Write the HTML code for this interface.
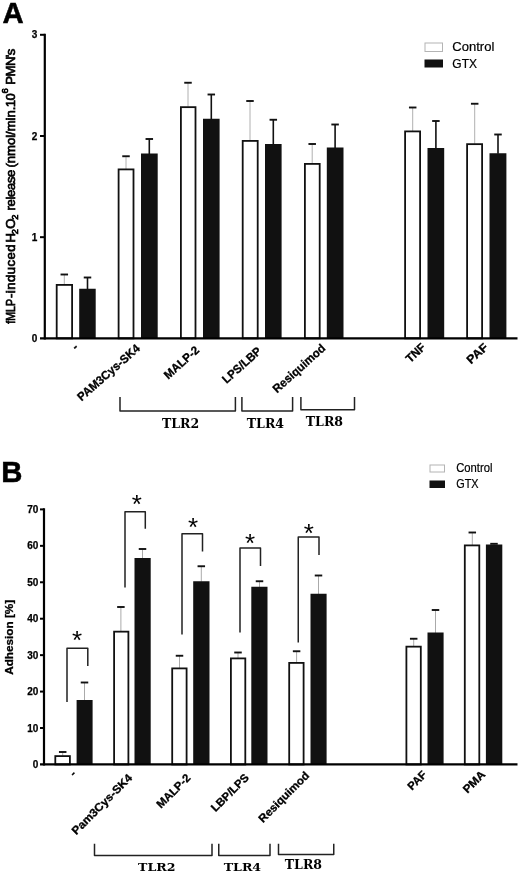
<!DOCTYPE html>
<html lang="en"><head><meta charset="utf-8"><title>Figure</title>
<style>html,body{margin:0;padding:0;background:#fff;}svg{display:block;}text{font-family:"Liberation Sans", Arial, Helvetica, sans-serif;fill:#000;}.b{font-weight:bold;}.tick{font-weight:bold;font-size:10px;text-anchor:end;stroke:#000;stroke-width:0.25px;}.xl{font-weight:bold;font-size:11.8px;text-anchor:end;stroke:#000;stroke-width:0.3px;}.tlr{font-family:"DejaVu Serif", "Liberation Serif", serif;font-weight:bold;font-size:13.6px;text-anchor:middle;}.ast{font-size:26px;text-anchor:middle;}</style></head><body>
<svg width="520" height="872" viewBox="0 0 520 872">
<rect width="520" height="872" fill="#fff"/>
<text x="2.6" y="22.7" class="b" style="font-size:29.3px" stroke="#000" stroke-width="0.5">A</text>
<line x1="64.30" y1="274.50" x2="64.30" y2="284.50" stroke="#b0b0b0" stroke-width="1.00"/>
<line x1="60.55" y1="274.50" x2="68.05" y2="274.50" stroke="#111" stroke-width="1.9"/>
<rect x="56.70" y="284.90" width="15.40" height="53.45" fill="#fff" stroke="#111" stroke-width="1.8"/>
<line x1="87.50" y1="277.50" x2="87.50" y2="289.25" stroke="#111" stroke-width="1.60"/>
<line x1="83.75" y1="277.50" x2="91.25" y2="277.50" stroke="#111" stroke-width="1.9"/>
<rect x="79.20" y="288.75" width="16.50" height="49.60" fill="#111"/>
<line x1="126.00" y1="156.25" x2="126.00" y2="169.00" stroke="#b0b0b0" stroke-width="1.00"/>
<line x1="122.25" y1="156.25" x2="129.75" y2="156.25" stroke="#111" stroke-width="1.9"/>
<rect x="118.60" y="169.40" width="14.90" height="168.95" fill="#fff" stroke="#111" stroke-width="1.8"/>
<line x1="149.30" y1="139.00" x2="149.30" y2="154.00" stroke="#111" stroke-width="1.60"/>
<line x1="145.55" y1="139.00" x2="153.05" y2="139.00" stroke="#111" stroke-width="1.9"/>
<rect x="141.00" y="153.50" width="16.70" height="184.85" fill="#111"/>
<line x1="188.00" y1="82.75" x2="188.00" y2="106.75" stroke="#b0b0b0" stroke-width="1.00"/>
<line x1="184.25" y1="82.75" x2="191.75" y2="82.75" stroke="#111" stroke-width="1.9"/>
<rect x="180.90" y="107.15" width="14.60" height="231.20" fill="#fff" stroke="#111" stroke-width="1.8"/>
<line x1="211.30" y1="94.50" x2="211.30" y2="119.25" stroke="#111" stroke-width="1.60"/>
<line x1="207.55" y1="94.50" x2="215.05" y2="94.50" stroke="#111" stroke-width="1.9"/>
<rect x="203.00" y="118.75" width="16.60" height="219.60" fill="#111"/>
<line x1="250.00" y1="101.00" x2="250.00" y2="140.50" stroke="#b0b0b0" stroke-width="1.00"/>
<line x1="246.25" y1="101.00" x2="253.75" y2="101.00" stroke="#111" stroke-width="1.9"/>
<rect x="242.70" y="140.90" width="15.00" height="197.45" fill="#fff" stroke="#111" stroke-width="1.8"/>
<line x1="273.30" y1="119.75" x2="273.30" y2="144.50" stroke="#111" stroke-width="1.60"/>
<line x1="269.55" y1="119.75" x2="277.05" y2="119.75" stroke="#111" stroke-width="1.9"/>
<rect x="265.00" y="144.00" width="16.60" height="194.35" fill="#111"/>
<line x1="312.20" y1="144.00" x2="312.20" y2="163.50" stroke="#b0b0b0" stroke-width="1.00"/>
<line x1="308.45" y1="144.00" x2="315.95" y2="144.00" stroke="#111" stroke-width="1.9"/>
<rect x="304.90" y="163.90" width="14.80" height="174.45" fill="#fff" stroke="#111" stroke-width="1.8"/>
<line x1="335.10" y1="124.50" x2="335.10" y2="148.00" stroke="#111" stroke-width="1.60"/>
<line x1="331.35" y1="124.50" x2="338.85" y2="124.50" stroke="#111" stroke-width="1.9"/>
<rect x="326.80" y="147.50" width="16.70" height="190.85" fill="#111"/>
<line x1="412.70" y1="107.50" x2="412.70" y2="131.00" stroke="#b0b0b0" stroke-width="1.00"/>
<line x1="408.95" y1="107.50" x2="416.45" y2="107.50" stroke="#111" stroke-width="1.9"/>
<rect x="405.10" y="131.40" width="15.00" height="206.95" fill="#fff" stroke="#111" stroke-width="1.8"/>
<line x1="435.90" y1="121.00" x2="435.90" y2="148.50" stroke="#111" stroke-width="1.60"/>
<line x1="432.15" y1="121.00" x2="439.65" y2="121.00" stroke="#111" stroke-width="1.9"/>
<rect x="427.50" y="148.00" width="16.70" height="190.35" fill="#111"/>
<line x1="474.70" y1="103.75" x2="474.70" y2="143.75" stroke="#b0b0b0" stroke-width="1.00"/>
<line x1="470.95" y1="103.75" x2="478.45" y2="103.75" stroke="#111" stroke-width="1.9"/>
<rect x="467.10" y="144.15" width="15.00" height="194.20" fill="#fff" stroke="#111" stroke-width="1.8"/>
<line x1="498.00" y1="134.50" x2="498.00" y2="153.75" stroke="#111" stroke-width="1.60"/>
<line x1="494.25" y1="134.50" x2="501.75" y2="134.50" stroke="#111" stroke-width="1.9"/>
<rect x="489.50" y="153.25" width="16.90" height="185.10" fill="#111"/>
<line x1="44.80" y1="33.70" x2="44.80" y2="339.45" stroke="#000" stroke-width="2.2"/>
<line x1="40.00" y1="338.35" x2="517.50" y2="338.35" stroke="#000" stroke-width="2.2"/>
<line x1="40" y1="237.17" x2="44.80" y2="237.17" stroke="#000" stroke-width="2"/>
<line x1="40" y1="135.98" x2="44.80" y2="135.98" stroke="#000" stroke-width="2"/>
<line x1="40" y1="34.80" x2="44.80" y2="34.80" stroke="#000" stroke-width="2"/>
<text x="37.2" y="341.95" class="tick">0</text>
<text x="37.2" y="240.77" class="tick">1</text>
<text x="37.2" y="139.58" class="tick">2</text>
<text x="37.2" y="38.40" class="tick">3</text>
<text transform="translate(14.80,323.80) rotate(-90)" style="font-size:13.1px" stroke="#000" stroke-width="0.7" textLength="24.8" lengthAdjust="spacingAndGlyphs">fMLP</text>
<text transform="translate(14.80,298.00) rotate(-90)" style="font-size:13.1px" stroke="#000" stroke-width="0.7" textLength="53.5" lengthAdjust="spacing">-induced</text>
<text transform="translate(14.80,242.60) rotate(-90)" style="font-size:13.1px" stroke="#000" stroke-width="0.7">H</text>
<text transform="translate(17.90,234.20) rotate(-90)" style="font-size:9.3px" stroke="#000" stroke-width="0.7">2</text>
<text transform="translate(14.80,228.70) rotate(-90)" style="font-size:13.1px" stroke="#000" stroke-width="0.7">O</text>
<text transform="translate(17.90,219.70) rotate(-90)" style="font-size:9.3px" stroke="#000" stroke-width="0.7">2</text>
<text transform="translate(14.80,210.60) rotate(-90)" style="font-size:13.1px" stroke="#000" stroke-width="0.7" textLength="41.0" lengthAdjust="spacing">release</text>
<text transform="translate(14.80,167.50) rotate(-90)" style="font-size:13.1px" stroke="#000" stroke-width="0.7" textLength="60.8" lengthAdjust="spacing">(nmol/min.</text>
<text transform="translate(14.80,107.20) rotate(-90)" style="font-size:13.1px" stroke="#000" stroke-width="0.7" textLength="14.0" lengthAdjust="spacing">10</text>
<text transform="translate(7.90,93.40) rotate(-90)" style="font-size:9.5px" stroke="#000" stroke-width="0.7">6</text>
<text transform="translate(14.80,84.70) rotate(-90)" style="font-size:13.1px" stroke="#000" stroke-width="0.7" textLength="36.1" lengthAdjust="spacing">PMN's</text>
<rect x="425" y="43" width="17.5" height="8.5" fill="#fff" stroke="#b4b4b4" stroke-width="1"/>
<rect x="424.5" y="59.5" width="18.5" height="8" fill="#111"/>
<text x="452.3" y="51.4" style="font-size:12px" stroke="#000" stroke-width="0.2" textLength="42" lengthAdjust="spacingAndGlyphs">Control</text>
<text x="452.3" y="67.6" style="font-size:12px" stroke="#000" stroke-width="0.2">GTX</text>
<text transform="translate(79.00,348.20) rotate(-42.0)" class="xl">-</text>
<text transform="translate(140.80,349.60) rotate(-41.3)" class="xl" textLength="78.8" lengthAdjust="spacingAndGlyphs">PAM3Cys-SK4</text>
<text transform="translate(200.10,351.20) rotate(-41.7)" class="xl" textLength="42.8" lengthAdjust="spacingAndGlyphs">MALP-2</text>
<text transform="translate(262.20,352.20) rotate(-41.8)" class="xl" textLength="47.8" lengthAdjust="spacingAndGlyphs">LPS/LBP</text>
<text transform="translate(326.20,349.20) rotate(-42.0)" class="xl" textLength="66.2" lengthAdjust="spacingAndGlyphs">Resiquimod</text>
<text transform="translate(426.30,348.30) rotate(-43.0)" class="xl" textLength="22.0" lengthAdjust="spacingAndGlyphs">TNF</text>
<text transform="translate(488.80,348.40) rotate(-42.5)" class="xl" textLength="24.0" lengthAdjust="spacingAndGlyphs">PAF</text>
<path d="M120.00 397.00 V411.00 H235.40 V397.00" fill="none" stroke="#222" stroke-width="1.5" stroke-linejoin="round"/>
<path d="M241.90 397.00 V411.00 H292.60 V397.00" fill="none" stroke="#222" stroke-width="1.5" stroke-linejoin="round"/>
<path d="M300.90 397.00 V409.80 H354.50 V397.00" fill="none" stroke="#222" stroke-width="1.5" stroke-linejoin="round"/>
<text x="180.6" y="427.5" class="tlr" textLength="37.2" lengthAdjust="spacingAndGlyphs">TLR2</text>
<text x="265.4" y="427.5" class="tlr" textLength="37.2" lengthAdjust="spacingAndGlyphs">TLR4</text>
<text x="324.4" y="425.8" class="tlr" textLength="37.2" lengthAdjust="spacingAndGlyphs">TLR8</text>
<text x="1.2" y="481.7" class="b" style="font-size:29.3px" stroke="#000" stroke-width="0.5">B</text>
<line x1="62.70" y1="752.00" x2="62.70" y2="755.70" stroke="#aaa" stroke-width="1.00"/>
<line x1="58.95" y1="752.00" x2="66.45" y2="752.00" stroke="#111" stroke-width="1.9"/>
<rect x="55.30" y="756.10" width="14.60" height="8.35" fill="#fff" stroke="#111" stroke-width="1.8"/>
<line x1="84.50" y1="682.50" x2="84.50" y2="700.50" stroke="#aaa" stroke-width="1.00"/>
<line x1="80.75" y1="682.50" x2="88.25" y2="682.50" stroke="#111" stroke-width="1.9"/>
<rect x="76.60" y="700.00" width="16.00" height="64.45" fill="#111"/>
<line x1="120.90" y1="607.00" x2="120.90" y2="631.25" stroke="#aaa" stroke-width="1.00"/>
<line x1="117.15" y1="607.00" x2="124.65" y2="607.00" stroke="#111" stroke-width="1.9"/>
<rect x="114.10" y="631.65" width="14.30" height="132.80" fill="#fff" stroke="#111" stroke-width="1.8"/>
<line x1="142.50" y1="549.00" x2="142.50" y2="558.50" stroke="#aaa" stroke-width="1.00"/>
<line x1="138.75" y1="549.00" x2="146.25" y2="549.00" stroke="#111" stroke-width="1.9"/>
<rect x="134.50" y="558.00" width="16.20" height="206.45" fill="#111"/>
<line x1="179.50" y1="655.75" x2="179.50" y2="668.00" stroke="#aaa" stroke-width="1.00"/>
<line x1="175.75" y1="655.75" x2="183.25" y2="655.75" stroke="#111" stroke-width="1.9"/>
<rect x="172.20" y="668.40" width="14.40" height="96.05" fill="#fff" stroke="#111" stroke-width="1.8"/>
<line x1="201.30" y1="566.25" x2="201.30" y2="581.75" stroke="#aaa" stroke-width="1.00"/>
<line x1="197.55" y1="566.25" x2="205.05" y2="566.25" stroke="#111" stroke-width="1.9"/>
<rect x="193.20" y="581.25" width="16.30" height="183.20" fill="#111"/>
<line x1="238.00" y1="652.50" x2="238.00" y2="658.00" stroke="#aaa" stroke-width="1.00"/>
<line x1="234.25" y1="652.50" x2="241.75" y2="652.50" stroke="#111" stroke-width="1.9"/>
<rect x="230.90" y="658.40" width="14.40" height="106.05" fill="#fff" stroke="#111" stroke-width="1.8"/>
<line x1="259.50" y1="581.25" x2="259.50" y2="587.25" stroke="#aaa" stroke-width="1.00"/>
<line x1="255.75" y1="581.25" x2="263.25" y2="581.25" stroke="#111" stroke-width="1.9"/>
<rect x="251.30" y="586.75" width="16.20" height="177.70" fill="#111"/>
<line x1="296.60" y1="651.25" x2="296.60" y2="662.50" stroke="#aaa" stroke-width="1.00"/>
<line x1="292.85" y1="651.25" x2="300.35" y2="651.25" stroke="#111" stroke-width="1.9"/>
<rect x="289.20" y="662.90" width="14.40" height="101.55" fill="#fff" stroke="#111" stroke-width="1.8"/>
<line x1="318.50" y1="575.50" x2="318.50" y2="594.25" stroke="#aaa" stroke-width="1.00"/>
<line x1="314.75" y1="575.50" x2="322.25" y2="575.50" stroke="#111" stroke-width="1.9"/>
<rect x="310.50" y="593.75" width="16.10" height="170.70" fill="#111"/>
<line x1="413.70" y1="638.75" x2="413.70" y2="646.25" stroke="#aaa" stroke-width="1.00"/>
<line x1="409.95" y1="638.75" x2="417.45" y2="638.75" stroke="#111" stroke-width="1.9"/>
<rect x="406.40" y="646.65" width="14.40" height="117.80" fill="#fff" stroke="#111" stroke-width="1.8"/>
<line x1="435.50" y1="610.00" x2="435.50" y2="633.00" stroke="#aaa" stroke-width="1.00"/>
<line x1="431.75" y1="610.00" x2="439.25" y2="610.00" stroke="#111" stroke-width="1.9"/>
<rect x="427.50" y="632.50" width="16.10" height="131.95" fill="#111"/>
<line x1="472.30" y1="532.50" x2="472.30" y2="545.00" stroke="#aaa" stroke-width="1.00"/>
<line x1="468.55" y1="532.50" x2="476.05" y2="532.50" stroke="#111" stroke-width="1.9"/>
<rect x="464.80" y="545.40" width="14.50" height="219.05" fill="#fff" stroke="#111" stroke-width="1.8"/>
<line x1="494.00" y1="543.80" x2="494.00" y2="545.00" stroke="#aaa" stroke-width="1.00"/>
<line x1="490.25" y1="543.80" x2="497.75" y2="543.80" stroke="#111" stroke-width="1.9"/>
<rect x="485.90" y="544.50" width="16.40" height="219.95" fill="#111"/>
<line x1="44.00" y1="508.30" x2="44.00" y2="765.55" stroke="#000" stroke-width="2.2"/>
<line x1="40.00" y1="764.45" x2="517.50" y2="764.45" stroke="#000" stroke-width="2.2"/>
<line x1="40" y1="728.01" x2="44.00" y2="728.01" stroke="#000" stroke-width="2"/>
<line x1="40" y1="691.58" x2="44.00" y2="691.58" stroke="#000" stroke-width="2"/>
<line x1="40" y1="655.14" x2="44.00" y2="655.14" stroke="#000" stroke-width="2"/>
<line x1="40" y1="618.71" x2="44.00" y2="618.71" stroke="#000" stroke-width="2"/>
<line x1="40" y1="582.27" x2="44.00" y2="582.27" stroke="#000" stroke-width="2"/>
<line x1="40" y1="545.84" x2="44.00" y2="545.84" stroke="#000" stroke-width="2"/>
<line x1="40" y1="509.40" x2="44.00" y2="509.40" stroke="#000" stroke-width="2"/>
<text x="38.3" y="768.05" class="tick">0</text>
<text x="38.3" y="731.61" class="tick">10</text>
<text x="38.3" y="695.18" class="tick">20</text>
<text x="38.3" y="658.74" class="tick">30</text>
<text x="38.3" y="622.31" class="tick">40</text>
<text x="38.3" y="585.87" class="tick">50</text>
<text x="38.3" y="549.44" class="tick">60</text>
<text x="38.3" y="513.00" class="tick">70</text>
<text transform="translate(13,674.8) rotate(-90)" class="b" style="font-size:11.4px" stroke="#000" stroke-width="0.3" textLength="75" lengthAdjust="spacingAndGlyphs">Adhesion [%]</text>
<rect x="430" y="465" width="14.5" height="7" fill="#fff" stroke="#b4b4b4" stroke-width="1"/>
<rect x="429.5" y="480.5" width="15.5" height="7.5" fill="#111"/>
<text x="456.2" y="471.8" style="font-size:12.3px" stroke="#000" stroke-width="0.2" textLength="36.3" lengthAdjust="spacingAndGlyphs">Control</text>
<text x="456.2" y="487.9" style="font-size:12.3px" stroke="#000" stroke-width="0.2" textLength="22.3" lengthAdjust="spacingAndGlyphs">GTX</text>
<path d="M67.00 702.00 V648.20 H87.80 V666.10" fill="none" stroke="#222" stroke-width="1.5" stroke-linejoin="round"/>
<text x="77.10" y="649.20" class="ast">*</text>
<path d="M125.00 587.50 V511.70 H145.30 V528.80" fill="none" stroke="#222" stroke-width="1.5" stroke-linejoin="round"/>
<text x="136.90" y="512.90" class="ast">*</text>
<path d="M182.00 634.50 V533.75 H202.50 V551.50" fill="none" stroke="#222" stroke-width="1.5" stroke-linejoin="round"/>
<text x="193.00" y="535.65" class="ast">*</text>
<path d="M240.00 632.50 V548.00 H260.50 V565.90" fill="none" stroke="#222" stroke-width="1.5" stroke-linejoin="round"/>
<text x="250.00" y="551.90" class="ast">*</text>
<path d="M298.25 642.50 V537.00 H319.00 V555.00" fill="none" stroke="#222" stroke-width="1.5" stroke-linejoin="round"/>
<text x="308.75" y="541.80" class="ast">*</text>
<text transform="translate(76.60,774.70) rotate(-45)" class="xl" style="font-size:11.3px">-</text>
<text transform="translate(133.00,778.60) rotate(-45)" class="xl" style="font-size:11.3px" textLength="80.2" lengthAdjust="spacingAndGlyphs">Pam3Cys-SK4</text>
<text transform="translate(191.20,778.60) rotate(-45)" class="xl" style="font-size:11.3px" textLength="42.6" lengthAdjust="spacingAndGlyphs">MALP-2</text>
<text transform="translate(249.50,778.40) rotate(-45)" class="xl" style="font-size:11.3px" textLength="48.0" lengthAdjust="spacingAndGlyphs">LBP/LPS</text>
<text transform="translate(310.00,776.20) rotate(-45)" class="xl" style="font-size:11.3px" textLength="66.5" lengthAdjust="spacingAndGlyphs">Resiquimod</text>
<text transform="translate(427.40,775.30) rotate(-45)" class="xl" style="font-size:11.3px">PAF</text>
<text transform="translate(486.00,775.30) rotate(-45)" class="xl" style="font-size:11.3px" textLength="26.2" lengthAdjust="spacingAndGlyphs">PMA</text>
<path d="M94.50 843.75 V855.50 H212.00 V843.75" fill="none" stroke="#222" stroke-width="1.5" stroke-linejoin="round"/>
<path d="M218.75 843.75 V855.50 H270.00 V843.75" fill="none" stroke="#222" stroke-width="1.5" stroke-linejoin="round"/>
<path d="M278.50 843.75 V854.50 H333.75 V843.75" fill="none" stroke="#222" stroke-width="1.5" stroke-linejoin="round"/>
<text transform="translate(156.8,870.6) scale(1,0.8)" class="tlr" textLength="37.4" lengthAdjust="spacingAndGlyphs">TLR2</text>
<text transform="translate(242.4,870.6) scale(1,0.8)" class="tlr" textLength="37.4" lengthAdjust="spacingAndGlyphs">TLR4</text>
<text x="303.4" y="869.4" class="tlr" textLength="37.2" lengthAdjust="spacingAndGlyphs">TLR8</text>
</svg></body></html>
